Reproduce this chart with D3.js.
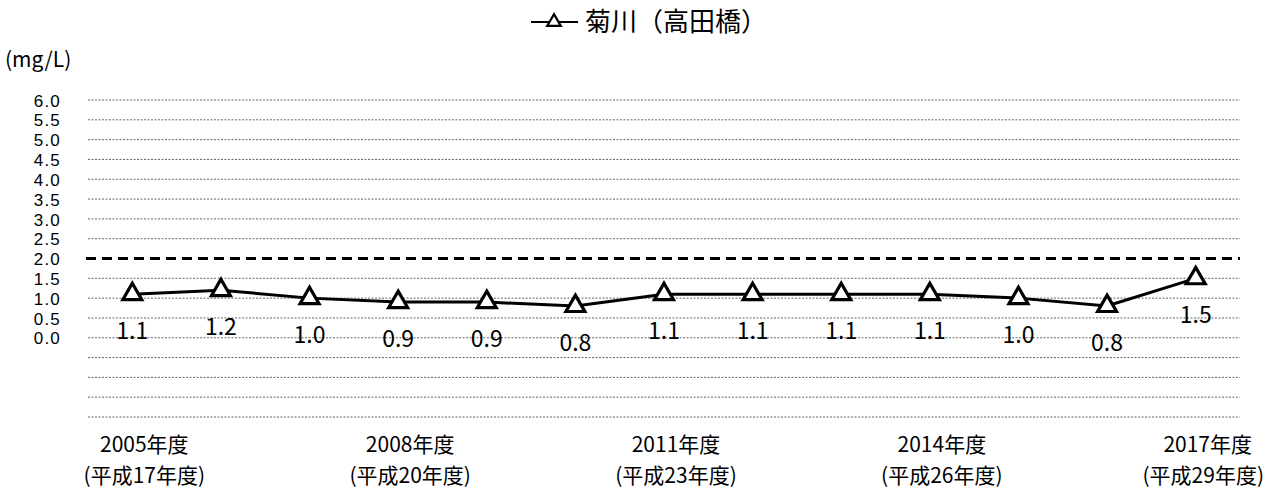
<!DOCTYPE html>
<html><head><meta charset="utf-8">
<script src="https://cdn.jsdelivr.net/npm/d3@7"></script>
<style>
html,body{margin:0;padding:0;background:#fff;}
svg{display:block;}
text{font-family:"Noto Sans CJK JP","Noto Sans",sans-serif;fill:#000;}
</style></head>
<body>
<svg id="chart" width="1277" height="493"></svg>
<script>
const years = ["2005","2006","2007","2008","2009","2010","2011","2012","2013","2014","2015","2016","2017"];
const values = [1.1,1.2,1.0,0.9,0.9,0.8,1.1,1.1,1.1,1.1,1.0,0.8,1.5];
const yTickValues = [0,0.5,1,1.5,2,2.5,3,3.5,4,4.5,5,5.5,6];
const gridValues = [-2,-1.5,-1,-0.5,0,0.5,1,1.5,2.5,3,3.5,4,4.5,5,5.5,6];
const standardValue = 2.0;
const xLabelYears = ["2005","2008","2011","2014","2017"];
const xLabelLine1 = ["2005年度","2008年度","2011年度","2014年度","2017年度"];
const xLabelLine2 = ["(平成17年度)","(平成20年度)","(平成23年度)","(平成26年度)","(平成29年度)"];
const seriesName = "菊川（高田橋）";
const unitLabel = "(mg/L)";

const svg = d3.select("#chart");
const x = d3.scalePoint().domain(years).range([88,1240]).padding(0.5);
const y = d3.scaleLinear().domain([-2,6]).range([417,100]);

// gridlines
svg.append("g").selectAll("line").data(gridValues).join("line")
  .attr("x1",88).attr("x2",1240)
  .attr("y1",d=>y(d)).attr("y2",d=>y(d))
  .attr("stroke","#666").attr("stroke-width",1).attr("stroke-dasharray","2,1.5");

// standard dashed line
svg.append("line")
  .attr("x1",86).attr("x2",1240)
  .attr("y1",y(standardValue)).attr("y2",y(standardValue))
  .attr("stroke","#000").attr("stroke-width",2.8).attr("stroke-dasharray","10,6");

// y axis labels
const yAxis = d3.axisLeft(y).tickValues(yTickValues).tickFormat(d3.format(".1f")).tickSize(0).tickPadding(0);
const gy = svg.append("g").attr("transform","translate(61,0)").call(yAxis);
gy.select(".domain").remove();
gy.selectAll("text").attr("font-size",17).attr("fill","#000").attr("dy","0.36em")
  .attr("letter-spacing","1.2px")
  .style("font-family","'Liberation Sans',Arial,sans-serif");

svg.append("text").attr("x",5).attr("y",67).attr("font-size",21).text(unitLabel);

// line
const line = d3.line().x((d,i)=>x(years[i])).y(d=>y(d));
svg.append("path").datum(values).attr("d",line)
  .attr("fill","none").attr("stroke","#000").attr("stroke-width",3);

// markers
const tri = d3.symbol().type(d3.symbolTriangle).size(155);
svg.append("g").selectAll("path").data(values).join("path")
  .attr("d",tri)
  .attr("transform",(d,i)=>`translate(${x(years[i])},${y(d)})`)
  .attr("fill","#fff").attr("stroke","#000").attr("stroke-width",3.2);

// data labels
svg.append("g").selectAll("text").data(values).join("text")
  .attr("x",(d,i)=>x(years[i]))
  .attr("y",d=>y(d)+37)
  .attr("dy","0.35em")
  .attr("text-anchor","middle").attr("font-size",23)
  .text(d=>d3.format(".1f")(d));

// x labels
const gx = svg.append("g");
function placeLabels(cls, yPos, texts){
  const sel = gx.selectAll("text."+cls).data(xLabelYears).join("text").attr("class",cls)
    .attr("y",yPos).attr("text-anchor","middle").attr("font-size",21)
    .text((d,i)=>texts[i]);
  sel.each(function(d){
    const w = this.getComputedTextLength();
    const cx = Math.min(x(d)+12, 1264 - w/2);
    d3.select(this).attr("x",cx);
  });
}
placeLabels("l1",452,xLabelLine1);
placeLabels("l2",483,xLabelLine2);

// legend title
const lg = svg.append("g");
lg.append("line").attr("x1",531).attr("x2",578).attr("y1",22).attr("y2",22)
  .attr("stroke","#000").attr("stroke-width",2);
lg.append("path").attr("d",d3.symbol().type(d3.symbolTriangle).size(80)())
  .attr("transform","translate(554,22)").attr("fill","#fff").attr("stroke","#000").attr("stroke-width",2.2);
lg.append("text").attr("x",585).attr("y",22).attr("dy","0.35em").attr("font-size",26).text(seriesName);
</script>
</body></html>
